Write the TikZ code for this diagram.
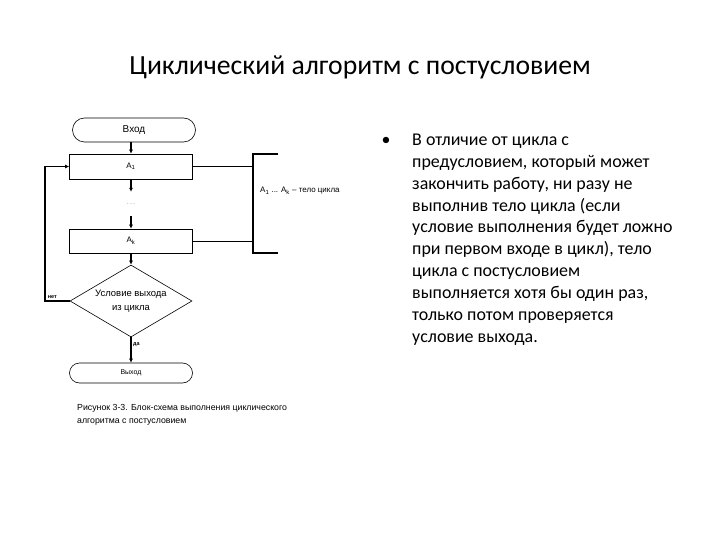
\documentclass[tikz,border=0pt]{standalone}
\usepackage{fontspec}
\setmainfont{Carlito}
\newfontfamily\schemefont{Liberation Sans}
\usetikzlibrary{shapes.geometric,shapes.misc,arrows.meta}
\tikzset{
	block/.style={draw, line width=0.6pt, minimum width=123bp, minimum height=25bp, inner sep=0pt, font=\schemefont\fontsize{8}{9}\selectfont},
	term/.style={block, rounded rectangle},
	cond/.style={draw, diamond, line width=0.6pt, shape aspect=1.7, minimum width=122bp, minimum height=72bp, inner sep=0pt, align=center, font=\schemefont\fontsize{9.5}{14}\selectfont},
	flow/.style={line width=1.2pt, -{Latex[length=4pt,width=4pt]}},
	tag/.style={font=\schemefont\bfseries\fontsize{5.5}{7}\selectfont, inner sep=1.5pt},
}

\begin{document}
\begin{tikzpicture}[x=1bp, y=-1bp]
		%%%%% START %%%%%
		\useasboundingbox (0,0) rectangle (720,540);
		
		\node[font=\fontsize{27.8}{32}\selectfont] (title) at (360,67) {Циклический алгоритм с постусловием};
		
		% flowchart
		\node[term, minimum height=24bp, font=\schemefont\fontsize{10}{12}\selectfont] (entry) at (134,130) {Вход};
		\node[block] (a1) at (131,166.5) {A\textsubscript{1}};
		\node[inner sep=0pt, minimum height=24bp, text=black!45, font=\schemefont\fontsize{7}{8}\selectfont] (dots) at (131,204) {.\,.\,.};
		\node[block, minimum height=24bp] (ak) at (131,241) {A\textsubscript{k}};
		\node[cond] (exitcond) at (131,301) {Условие выхода\\из цикла};
		\node[term, minimum height=20bp, font=\schemefont\fontsize{7}{8}\selectfont] (exit) at (131,373) {Выход};
		
		\draw[flow] (entry.south -| a1.north) -- (a1.north);
		\draw[flow] (a1.south) -- (dots.north);
		\draw[flow] (dots.south) -- (ak.north);
		\draw[flow] (ak.south) -- (exitcond.north);
		\draw[flow] (exitcond.south) -- node[tag, right, pos=0.3] (yes) {да} (exit.north);
		
		\coordinate (back) at (45,301);
		\draw[flow] (exitcond.west) -- node[tag, above, pos=0.7] (no) {нет} (back) |- (a1.west);
		
		% loop body bracket
		\coordinate (brtop) at (253,154);
		\coordinate (brbot) at (253,253);
		\draw[line width=0.6pt] (a1.east) -- (a1.east -| brtop);
		\draw[line width=0.6pt] (ak.east) -- (ak.east -| brtop);
		\draw[line width=2pt] ([xshift=25bp]brtop) -- (brtop) -- (brbot) -- ([xshift=25bp]brbot);
		\node[anchor=west, inner sep=0pt, font=\schemefont\fontsize{8}{9}\selectfont] (body) at (260,191) {A\textsubscript{1} ... A\textsubscript{k} – тело цикла};
		
		\node[anchor=north west, align=left, inner sep=0pt, font=\schemefont\fontsize{8.8}{13}\selectfont] (caption) at (77,404) {Рисунок 3-3. Блок-схема выполнения циклического\\алгоритма с постусловием};
		
		% right text
		\node[anchor=base, inner sep=0pt, font=\fontsize{18}{22}\selectfont] (bullet) at (386,146) {•};
		\node[anchor=north west, align=left, inner sep=0pt, font=\fontsize{18}{21.9}\selectfont] (note) at (412,134) {В отличие от цикла с\\предусловием, который может\\закончить работу, ни разу не\\выполнив тело цикла (если\\условие выполнения будет ложно\\при первом входе в цикл), тело\\цикла с постусловием\\выполняется хотя бы один раз,\\только потом проверяется\\условие выхода.};
		
		%%%%% END %%%%%
\end{tikzpicture}
\end{document}
